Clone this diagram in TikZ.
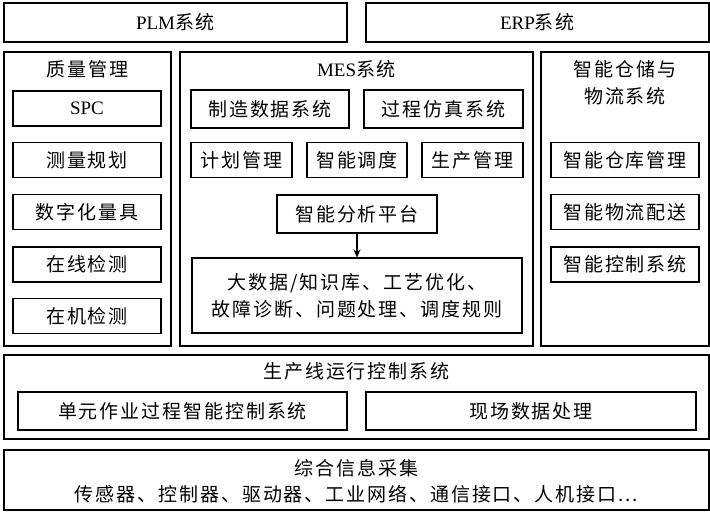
\documentclass[tikz,border=0pt]{standalone}
\usepackage{fontspec}
\setmainfont{Noto Sans CJK SC}[LetterSpace=10]
\newfontfamily\latfont{Liberation Serif}
\usetikzlibrary{arrows.meta}

\tikzset{
  panel/.style={draw, line width=1.1pt, inner sep=0pt},
  box/.style={draw, line width=1.1pt, inner sep=0pt, minimum height=35},
  title/.style={inner sep=0pt, align=center},
}

\begin{document}
\begin{tikzpicture}[x=1pt,y=-1pt,font=\fontsize{19}{27}\selectfont]
\useasboundingbox (0,0) rectangle (710,512);
% top row
\node[panel, minimum width=343, minimum height=39] (plm) at (175.5,22.5) {{\latfont PLM}系统};
\node[panel, minimum width=343, minimum height=39] (erp) at (537.5,22.5) {{\latfont ERP}系统};
% quality column
\node[panel, minimum width=167, minimum height=294] (quality) at (87.5,199) {};
\node[title] (qualityt) at (87.5,69) {质量管理};
\node[box, minimum width=148] (spc) at (87,108.5) {{\latfont SPC}};
\node[box, minimum width=148] (plan1) at (87,160) {测量规划};
\node[box, minimum width=148] (gauge) at (87,212) {数字化量具};
\node[box, minimum width=148] (online) at (87,264.5) {在线检测};
\node[box, minimum width=148] (onmach) at (87,316) {在机检测};
% MES
\node[panel, minimum width=353, minimum height=294] (mes) at (356.5,199) {};
\node[title] (mest) at (356.5,69) {{\latfont MES}系统};
\node[box, minimum width=158, minimum height=38] (mfg) at (270,109) {制造数据系统};
\node[box, minimum width=159, minimum height=38] (sim) at (443.5,109) {过程仿真系统};
\node[box, minimum width=101] (plan) at (241.5,160) {计划管理};
\node[box, minimum width=100] (sched) at (357,160) {智能调度};
\node[box, minimum width=101] (prod) at (472.5,160) {生产管理};
\node[box, minimum width=160, minimum height=38] (ana) at (357,214) {智能分析平台};
\node[box, minimum width=330, minimum height=75, align=center] (bigdata) at (357,295.5) {大数据/知识库、工艺优化、\\故障诊断、问题处理、调度规则};
\draw[-{Stealth[length=8pt,width=7pt]}, line width=1.1pt] (ana) -- (bigdata);
% storage and logistics
\node[panel, minimum width=168, minimum height=294] (wms) at (625,199) {};
\node[title] (wmst) at (625,83) {智能仓储与\\物流系统};
\node[box, minimum width=148] (wh) at (625,160) {智能仓库管理};
\node[box, minimum width=148] (logi) at (625,212) {智能物流配送};
\node[box, minimum width=148] (ctrl) at (625,264.5) {智能控制系统};
% line control
\node[panel, minimum width=705, minimum height=84] (line) at (356.5,397) {};
\node[title] (linet) at (356.5,371) {生产线运行控制系统};
\node[box, minimum width=329, minimum height=38] (unit) at (182.5,411) {单元作业过程智能控制系统};
\node[box, minimum width=330, minimum height=38] (field) at (531,411) {现场数据处理};
% acquisition
\node[panel, minimum width=705, minimum height=60] (info) at (356.5,480) {};
\node[title, font=\fontsize{19}{26}\selectfont] (infot) at (356.5,481) {综合信息采集\\传感器、控制器、驱动器、工业网络、通信接口、人机接口...};
\end{tikzpicture}
\end{document}
